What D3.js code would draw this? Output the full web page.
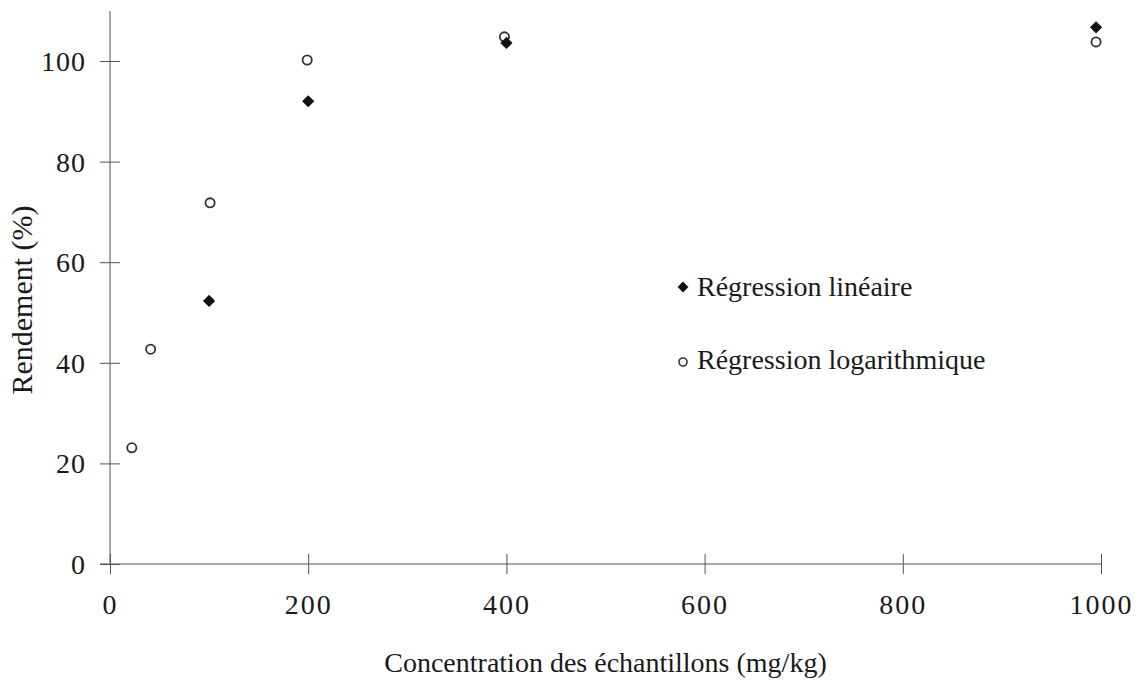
<!DOCTYPE html>
<html><head><meta charset="utf-8">
<script src="https://cdn.jsdelivr.net/npm/d3@7/dist/d3.min.js"></script>
<style>
html,body{margin:0;padding:0;background:#fff;}
svg text{font-family:"Liberation Serif","Times New Roman",serif;fill:#1a1a1a;}
</style></head>
<body><svg id="chart" width="1140" height="685"></svg>
<script>
const linX = [100, 200, 400, 995];
const linY = [52.3, 92.0, 103.6, 106.7];
const logX = [22, 41, 101, 199, 398, 995];
const logY = [23.1, 42.7, 71.8, 100.2, 104.8, 103.8];
const xTicks = [0, 200, 400, 600, 800, 1000];
const yTicks = [0, 20, 40, 60, 80, 100];
const xTitle = "Concentration des échantillons (mg/kg)";
const yTitle = "Rendement (%)";
const legendLabels = ["Régression linéaire", "Régression logarithmique"];

const svg = d3.select("#chart");
const x = d3.scaleLinear().domain([0, 1000]).range([110, 1101]);
const y = d3.scaleLinear().domain([0, 100]).range([564, 61]);

// axes
const axisColor = "#555";
svg.append("line").attr("x1", 110).attr("x2", 110).attr("y1", 11).attr("y2", y(0))
  .attr("stroke", axisColor).attr("stroke-width", 1);
svg.append("line").attr("x1", 100).attr("x2", x(1000)).attr("y1", y(0)).attr("y2", y(0))
  .attr("stroke", axisColor).attr("stroke-width", 1.2);

const xAxis = d3.axisBottom(x).tickValues(xTicks).tickSize(10).tickPadding(0).tickFormat(d3.format("d"));
const gx = svg.append("g").attr("transform", `translate(0,${y(0)})`).call(xAxis);
gx.select(".domain").remove();
gx.selectAll(".tick line").attr("y1", -10).attr("y2", 10).attr("stroke", axisColor);
gx.selectAll(".tick text").attr("y", 50).attr("dy", 0).attr("font-size", 28).attr("letter-spacing", 2).attr("fill", "#222");

const yAxis = d3.axisLeft(y).tickValues(yTicks).tickSize(10).tickPadding(0).tickFormat(d3.format("d"));
const gy = svg.append("g").attr("transform", "translate(110,0)").call(yAxis);
gy.select(".domain").remove();
gy.selectAll(".tick line").attr("x1", -10).attr("x2", 10).attr("stroke", axisColor);
gy.selectAll(".tick text").attr("x", -24).attr("dy", "0.34em").attr("font-size", 28).attr("letter-spacing", 1).attr("fill", "#222");

// titles
svg.append("text").attr("x", (x(0) + x(1000)) / 2).attr("y", 672).attr("text-anchor", "middle")
  .attr("font-size", 28).text(xTitle);
svg.append("text").attr("transform", "translate(32,300) rotate(-90)").attr("text-anchor", "middle")
  .attr("font-size", 30).text(yTitle);

// markers
const diamond = d3.symbol().type(d3.symbolDiamond2).size(95);
svg.append("g").selectAll("circle").data(logX.map((d, i) => [d, logY[i]])).join("circle")
  .attr("cx", d => x(d[0])).attr("cy", d => y(d[1])).attr("r", 4.6)
  .attr("fill", "none").attr("stroke", "#333").attr("stroke-width", 1.8);
svg.append("g").selectAll("path").data(linX.map((d, i) => [d, linY[i]])).join("path")
  .attr("d", diamond).attr("transform", d => `translate(${x(d[0])},${y(d[1])})`)
  .attr("fill", "#111");

// legend
const lg = svg.append("g");
lg.append("path").attr("d", d3.symbol().type(d3.symbolDiamond2).size(75)).attr("transform", "translate(683,287)").attr("fill", "#111");
lg.append("circle").attr("cx", 683).attr("cy", 362).attr("r", 4).attr("fill", "none").attr("stroke", "#333").attr("stroke-width", 1.6);
lg.append("text").attr("x", 697).attr("y", 296).attr("font-size", 28).text(legendLabels[0]);
lg.append("text").attr("x", 697).attr("y", 369).attr("font-size", 28).text(legendLabels[1]);
</script></body></html>
